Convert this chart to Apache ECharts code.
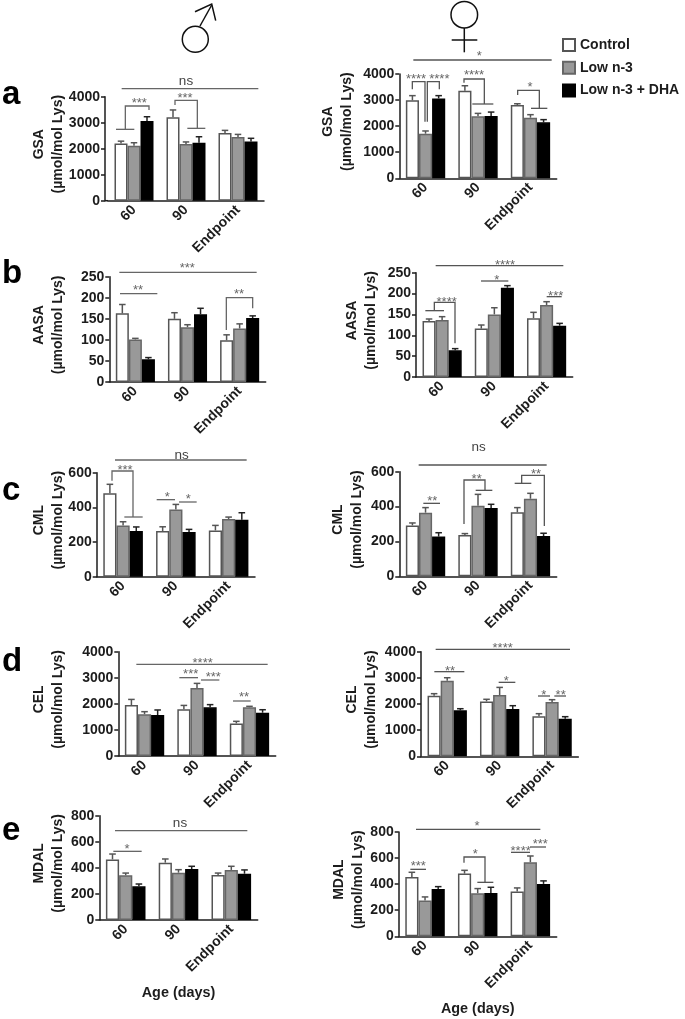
<!DOCTYPE html>
<html>
<head>
<meta charset="utf-8">
<style>html,body{margin:0;padding:0;background:#fff}#c{width:685px;height:1019px}</style>
<script src="https://cdn.jsdelivr.net/npm/echarts@6/dist/echarts.min.js"></script>
</head>
<body>
<div id="c"></div>
<script>
const categories = ['60', '90', 'Endpoint'];
const groups = ['Control', 'Low n-3', 'Low n-3 + DHA'];

// rows: Control, Low n-3, Low n-3 + DHA; columns: 60, 90, Endpoint
const gsaMaleMean   = [[2200, 3205, 2600], [2115, 2180, 2450], [3065, 2230, 2280]];
const gsaMaleTop    = [[2290, 3490, 2705], [2230, 2260, 2550], [3230, 2460, 2400]];
const gsaFemaleMean = [[2990, 3360, 2810], [1710, 2375, 2325], [3065, 2390, 2145]];
const gsaFemaleTop  = [[3170, 3550, 2860], [1815, 2490, 2440], [3170, 2540, 2250]];
const aasaMaleMean  = [[163, 150, 99], [101, 130, 127], [54, 161, 152]];
const aasaMaleTop   = [[184, 164.5, 112], [103.6, 136, 138], [58, 175, 157]];
const aasaFemaleMean= [[134, 116, 141], [136.6, 150, 172.5], [64, 214, 123]];
const aasaFemaleTop = [[139, 124.6, 155], [144.6, 166, 180.5], [68, 219, 128.6]];
const cmlMaleMean   = [[481, 263, 267], [296, 387, 333], [263, 258, 329]];
const cmlMaleTop    = [[533, 288, 296], [317, 417, 344], [287, 273, 369]];
const cmlFemaleMean = [[292, 237, 367], [365, 405, 445], [228, 392, 231]];
const cmlFemaleTop  = [[306, 245, 394], [394, 470, 476], [250, 413, 247]];
const celMaleMean   = [[1955, 1790, 1250], [1600, 2610, 1865], [1570, 1865, 1660]];
const celMaleTop    = [[2170, 1940, 1330], [1700, 2785, 1905], [1765, 1970, 1775]];
const celFemaleMean = [[2320, 2100, 1530], [2890, 2345, 2075], [1760, 1810, 1440]];
const celFemaleTop  = [[2395, 2180, 1630], [3005, 2635, 2165], [1820, 1935, 1515]];
const mdalMaleMean  = [[465, 440, 345], [343, 363, 384], [258, 391, 355]];
const mdalMaleTop   = [[506, 468, 360], [360, 386, 412], [276, 412, 384]];
const mdalFemaleMean= [[455, 481, 343], [274, 330, 568], [363, 332, 402]];
const mdalFemaleTop = [[491, 506, 371], [302, 366, 616], [381, 376, 425]];

// layout: plot box in page pixels
const panels = [
  {n:'GSA',  mean:gsaMaleMean,    top:gsaMaleTop,    max:4000, step:1000, l:108,   r:264,   t:96.7,  b:200.7, off:3,  col:57.7},
  {n:'GSA',  mean:gsaFemaleMean,  top:gsaFemaleTop,  max:4000, step:1000, l:399.3, r:556.7, t:74,    b:178.3, off:0,  col:347.3},
  {n:'AASA', mean:aasaMaleMean,   top:aasaMaleTop,   max:250,  step:50,   l:109.3, r:265.7, t:276.7, b:382,   off:0,  col:57.7},
  {n:'AASA', mean:aasaFemaleMean, top:aasaFemaleTop, max:250,  step:50,   l:416,   r:572.7, t:272.7, b:377,   off:0,  col:370.7},
  {n:'CML',  mean:cmlMaleMean,    top:cmlMaleTop,    max:600,  step:200,  l:96.7,  r:255,   t:472.7, b:576.7, off:0,  col:57.7},
  {n:'CML',  mean:cmlFemaleMean,  top:cmlFemaleTop,  max:600,  step:200,  l:399.3, r:556.7, t:471.7, b:576.3, off:0,  col:356.7},
  {n:'CEL',  mean:celMaleMean,    top:celMaleTop,    max:4000, step:1000, l:118.3, r:275.7, t:651.7, b:756,   off:0,  col:57.7},
  {n:'CEL',  mean:celFemaleMean,  top:celFemaleTop,  max:4000, step:1000, l:421,   r:578.3, t:651.7, b:756.3, off:0,  col:370.7},
  {n:'MDAL', mean:mdalMaleMean,   top:mdalMaleTop,   max:800,  step:200,  l:99.3,  r:257.7, t:815.7, b:920,   off:0,  col:57.7, age:true},
  {n:'MDAL', mean:mdalFemaleMean, top:mdalFemaleTop, max:800,  step:200,  l:398.7, r:556.7, t:832,   b:936.3, off:0,  col:358.3, age:true}
];

const FONT = '"Liberation Sans", Arial, sans-serif';
const INK = '#1c1c1c';
const fills = ['#ffffff', '#999999', '#000000'];
const edges = ['#555', '#666', '#000000'];
const whisker = ['#555', '#555', '#222'];

// significance marks, read in 3x-zoom coordinates with a page origin
const notes = [
  {o:[0,0], c:'#666', lines:[[365,266,775,266],[348,388,403,388],[376,388,376,318,447,318,447,330],[525,315,525,301,592,301,592,385],[562,385,616,385]],
   text:[['ns',558,243],['***',418,303],['***',555,288]]},
  {o:[340,0], c:'#555', lines:[[220,180,635,180],[217,268,217,245,255,245,255,365],[262,365,262,245,298,245,298,268],[372,248,372,237,433,237,433,312],[397,312,460,312],[533,285,533,271,598,271,598,325],[573,325,622,325]],
   text:[['*',418,163],['****',228,231],['****',298,233],['****',402,221],['*',570,256]]},
  {o:[0,250], c:'#666', lines:[[358,67,770,67],[360,131,472,131],[679,240,679,143,758,143,758,175]],
   text:[['***',562,48],['**',414,115],['**',717,127]]},
  {o:[340,250], c:'#555', lines:[[287,47,670,47],[423,93,505,93],[256,182,312,182],[283,182,283,157,345,157,345,280],[620,140,665,140]],
   text:[['****',495,40],['*',470,86],['****',320,151],['***',647,132]]},
  {o:[0,440], c:'#666', lines:[[345,60,740,60],[336,122,336,93,399,93,399,231],[373,231,428,231],[470,179,525,179],[537,186,590,186]],
   text:[['ns',545,45],['***',375,85],['*',502,165],['*',565,173]]},
  {o:[340,440], c:'#555', lines:[[236,75,620,75],[250,190,300,190],[372,252,372,120,435,120,435,151],[407,151,457,151],[524,130,574,130],[545,130,545,106,613,106,613,258]],
   text:[['ns',416,22],['**',277,179],['**',410,111],['**',588,96]]},
  {o:[0,620], c:'#666', lines:[[409,133,803,133],[538,173,594,173],[603,180,658,180],[699,243,752,243]],
   text:[['****',608,123],['***',572,158],['***',640,167],['**',732,227]]},
  {o:[340,620], c:'#555', lines:[[287,88,690,88],[283,155,373,155],[476,187,526,187],[594,228,630,228],[643,228,678,228]],
   text:[['****',488,79],['**',330,147],['*',499,178],['*',611,219],['**',662,219]]},
  {o:[0,800], c:'#666', lines:[[345,92,742,92],[340,154,425,154]],
   text:[['ns',540,70],['*',381,141]]},
  {o:[340,800], c:'#555', lines:[[228,88,601,88],[211,208,258,208],[372,188,372,171,435,171,435,247],[412,247,460,247],[513,157,570,157],[570,141,618,141]],
   text:[['*',411,72],['***',235,193],['*',406,157],['****',542,148],['***',601,127]]}
];

const panelLetters = [['a',2,78],['b',2,257],['c',2,474],['d',2,645],['e',2,814]];

const grid = [], xAxis = [], yAxis = [], series = [];
panels.forEach((p, i) => {
  grid.push({left:p.l, top:p.t, width:p.r - p.l, height:p.b - p.t, containLabel:false});
  xAxis.push({
    type:'category', gridIndex:i, data:categories,
    axisLine:{lineStyle:{color:INK, width:1.5}}, axisTick:{show:false},
    axisLabel:{interval:0, rotate:45, margin:7, color:INK, fontFamily:FONT, fontWeight:'bold', fontSize:14},
    name:p.age ? 'Age (days)' : '', nameLocation:'middle', nameGap:66, nameMoveOverlap:false,
    nameTextStyle:{color:INK, fontFamily:FONT, fontWeight:'bold', fontSize:14.4}
  });
  yAxis.push({
    type:'value', gridIndex:i, min:0, max:p.max, interval:p.step, offset:p.off,
    splitLine:{show:false},
    axisLine:{show:true, onZero:false, lineStyle:{color:INK, width:1.5}},
    axisTick:{show:true, length:4, lineStyle:{color:INK, width:1.5}},
    axisLabel:{margin:5, color:INK, fontFamily:FONT, fontWeight:'bold', fontSize:14, formatter:v => String(v)},
    name:p.n + '\n(µmol/mol Lys)', nameLocation:'middle', nameRotate:90, nameMoveOverlap:false,
    nameGap:(p.l - p.off) - p.col - 9.5,
    nameTextStyle:{color:INK, fontFamily:FONT, fontWeight:'bold', fontSize:14, lineHeight:19, align:'center', padding:[0,0,0,9]}
  });
  groups.forEach((g, s) => {
    series.push({
      type:'bar', name:g, xAxisIndex:i, yAxisIndex:i, data:p.mean[s],
      barWidth:'25%', barGap:0, silent:true, animation:false,
      itemStyle:{color:fills[s], borderColor:edges[s], borderWidth:1.5}
    });
    series.push({
      type:'custom', name:g + ' error', xAxisIndex:i, yAxisIndex:i, silent:true, animation:false, clip:false, z:1,
      encode:{x:0, y:[1,2]},
      data:p.mean[s].map((m, k) => [k, m, p.top[s][k]]),
      renderItem:(params, api) => {
        const c = api.value(0);
        const a = api.coord([c, api.value(1)]);
        const b = api.coord([c, api.value(2)]);
        const band = api.size([1,0])[0];
        const x = a[0] + (s - 1) * band / 4;
        const cap = band / 16;
        const style = {stroke:whisker[s], lineWidth:1.5, fill:null};
        return {type:'group', children:[
          {type:'line', shape:{x1:x, y1:a[1], x2:x, y2:b[1]}, style},
          {type:'line', shape:{x1:x - cap, y1:b[1], x2:x + cap, y2:b[1]}, style}
        ]};
      }
    });
  });
});

const graphic = [];
notes.forEach(n => {
  const px = (v, k) => n.o[k] + v / 3;
  n.lines.forEach(l => {
    const points = [];
    for (let j = 0; j < l.length; j += 2) points.push([px(l[j],0), px(l[j+1],1)]);
    graphic.push({type:'polyline', shape:{points}, style:{stroke:n.c, lineWidth:1.3, fill:null}, silent:true});
  });
  n.text.forEach(t => {
    const star = t[0] !== 'ns';
    graphic.push({type:'text', x:px(t[1],0), y:px(t[2],1) + (star ? 2 : 0), silent:true,
      style:{text:t[0], fill:star ? '#666' : '#444', font:(star ? '13px ' : '13.5px ') + FONT, textAlign:'center', textVerticalAlign:'middle'}});
  });
});
// baseline reaches the offset y axis in the first panel
graphic.push({type:'line', shape:{x1:105, y1:200.7, x2:108, y2:200.7}, style:{stroke:INK, lineWidth:1.5}, silent:true});
panelLetters.forEach(t => {
  graphic.push({type:'text', x:t[1], y:t[2], silent:true,
    style:{text:t[0], fill:'#000', font:'bold 33px ' + FONT, textAlign:'left', textVerticalAlign:'alphabetic'}});
});
// male and female symbols
const sym = {stroke:'#111', lineWidth:1.5, fill:null};
graphic.push({type:'circle', shape:{cx:195.3, cy:39.3, r:13}, style:sym, silent:true});
graphic.push({type:'line', shape:{x1:200, y1:26, x2:211.7, y2:5}, style:sym, silent:true});
graphic.push({type:'polyline', shape:{points:[[195,11.7],[211.7,4],[215.7,20.7]]}, style:sym, silent:true});
graphic.push({type:'circle', shape:{cx:464.3, cy:14.7, r:13.3}, style:sym, silent:true});
graphic.push({type:'line', shape:{x1:464.3, y1:28, x2:464.3, y2:52.3}, style:sym, silent:true});
graphic.push({type:'line', shape:{x1:451.7, y1:40, x2:477.3, y2:40}, style:sym, silent:true});

const chart = echarts.init(document.getElementById('c'), null, {renderer:'canvas'});
chart.setOption({
  animation:false,
  backgroundColor:'#fff',
  legend:{
    data:groups, orient:'vertical', left:562, top:38, padding:0, itemWidth:12, itemHeight:12, itemGap:8.7,
    icon:'rect', selectedMode:false,
    textStyle:{color:INK, fontFamily:FONT, fontWeight:'bold', fontSize:14}
  },
  grid, xAxis, yAxis, series, graphic
});
</script>
</body>
</html>
